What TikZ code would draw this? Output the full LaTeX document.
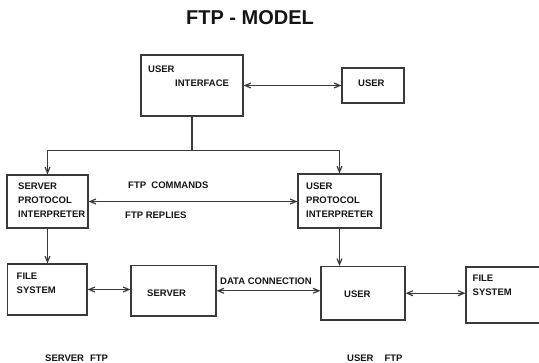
\documentclass[tikz,border=0pt]{standalone}
\usepackage{fontspec}
\setmainfont{Liberation Sans}
\usepackage{tikz}
\usetikzlibrary{arrows,positioning,calc}
\definecolor{linegray}{HTML}{3A3A3A}
\definecolor{inkblack}{HTML}{151515}

\tikzset{
  box/.style={draw=linegray, line width=1.2pt, rectangle, inner sep=0pt},
  txt/.style={text=inkblack, font=\fontsize{9.5}{14}\selectfont\bfseries,
              align=left, inner sep=0pt, anchor=west},
  link/.style={draw=linegray, line width=1.2pt, >=angle 45}
}

\begin{document}
\begin{tikzpicture}[x=1pt,y=-1pt]
  \useasboundingbox (0,0) rectangle (539,363);

  % title
  \node[text=inkblack, font=\fontsize{20}{24}\selectfont\bfseries] (title) at (250,17.5) {FTP - MODEL};

  % boxes
  \node[box, minimum width=102, minimum height=61]   (ui)   at (192,85.5)    {};
  \node[box, minimum width=62,  minimum height=35]   (usr)  at (373,85.5)    {};
  \node[box, minimum width=81,  minimum height=53]   (spi)  at (47.5,201.5)  {};
  \node[box, minimum width=83,  minimum height=54]   (upi)  at (339.5,201)   {};
  \node[box, minimum width=79.5,minimum height=51]   (fs1)  at (47.3,289.5)  {};
  \node[box, minimum width=85,  minimum height=50.5] (srv)  at (173.5,290.75){};
  \node[box, minimum width=84,  minimum height=53.5] (usr2) at (363,293.25)  {};
  \node[box, minimum width=75,  minimum height=56]   (fs2)  at (503.5,295)   {};

  % box texts
  \node[txt] (uitxt1)  at (148,69)    {USER};
  \node[txt] (uitxt2)  at (175,83)    {INTERFACE};
  \node[txt] (usrtxt)  at (358,83)    {USER};
  \node[txt] (spitxt)  at (18,200)    {SERVER\\PROTOCOL\\INTERPRETER};
  \node[txt] (upitxt)  at (306,200)   {USER\\PROTOCOL\\INTERPRETER};
  \node[txt] (fs1txt)  at (16.5,283)  {FILE\\SYSTEM};
  \node[txt] (srvtxt)  at (147,293)   {SERVER};
  \node[txt] (usr2txt) at (344,294.7) {USER};
  \node[txt] (fs2txt)  at (472.5,285) {FILE\\SYSTEM};

  % free labels
  \node[txt] (cmd)   at (128,185)   {FTP~~COMMANDS};
  \node[txt] (rep)   at (125,215)   {FTP REPLIES};
  \node[txt] (data)  at (220,281.6) {DATA CONNECTION};
  \node[txt] (sftp)  at (45,358)    {SERVER\hspace{6pt}FTP};
  \node[txt] (uftp)  at (347,358)   {USER\hspace{11pt}FTP};

  % connectors
  \draw[link,<->] (ui) -- (usr);
  \draw[link] (ui.south) -- ++(0,34) coordinate (bus);
  \draw[link,->] (bus) -| (spi.north);
  \draw[link,->] (bus) -| (upi.north);
  \draw[link,<->] (spi.east) -- (spi.east -| upi.west);
  \draw[link,->] (spi.south) -- (spi.south |- fs1.north);
  \draw[link,->] (upi.south) -- (upi.south |- usr2.north);
  \draw[link,<->] (fs1.east) -- (fs1.east -| srv.west);
  \draw[link,<->] (srv.east) -- (srv.east -| usr2.west);
  \draw[link,<->] (usr2.east) -- (usr2.east -| fs2.west);
\end{tikzpicture}
\end{document}
